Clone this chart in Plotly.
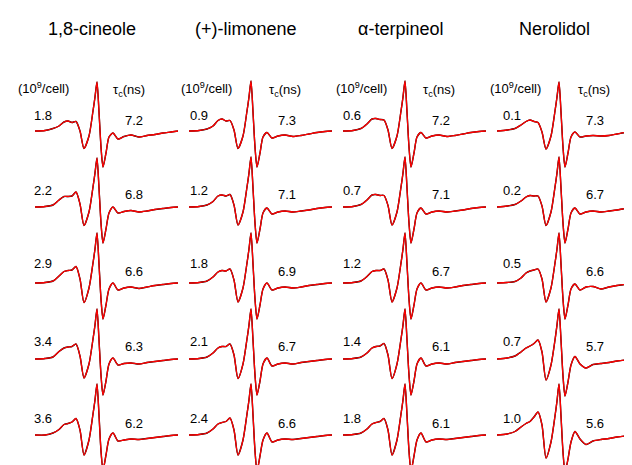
import plotly.graph_objects as go

# field offset from the central line (G), shared by every spectrum
field = [-62, -52, -44, -38, -33, -29, -25, -21, -17, -13, -8, -4, -2, 0, 2, 4,
         6, 9, 12, 16, 21, 27, 34, 42, 50, 58, 66, 74, 81]

compounds = ['1,8-cineole', '(+)-limonene', 'α-terpineol', 'Nerolidol']

# spin label density (10^9/cell) and rotational correlation time (ns), top to bottom
density = [[1.8, 2.2, 2.9, 3.4, 3.6],
           [0.9, 1.2, 1.8, 2.1, 2.4],
           [0.6, 0.7, 1.2, 1.4, 1.8],
           [0.1, 0.2, 0.5, 0.7, 1.0]]
tau_c = [[7.2, 6.8, 6.6, 6.3, 6.2],
         [7.3, 7.1, 6.9, 6.7, 6.6],
         [7.2, 7.1, 6.7, 6.1, 6.1],
         [7.3, 6.7, 6.6, 5.7, 5.6]]

# first-derivative EPR spectra (a.u.)
spectra_cineole = [
    [0, 0.5, 2.5, 5, 9, 10, 8.5, 9.5, 0, -17.5, -5, 20, 34, 49, 19, -16, -36, -22, -6, -2, -8, -5.5, -4, -6, -4.5, -3.5, -2, -1, 0],
    [0, 0.5, 2, 7, 10.5, 10.5, 11, 15, 3, -18.5, -5, 20, 34, 49, 19, -16, -36, -22, -6, 0, -6, -4.5, -3.5, -5, -4, -2.5, -1.5, -0.5, 0],
    [0, 0.5, 2, 7, 11.5, 12.5, 13, 16.5, 4, -19.5, -5, 20, 34, 50, 19, -16, -36, -22, -6, 0, -7, -5, -4, -5.5, -4, -2.5, -1.5, -0.5, 0],
    [0, 0.5, 2, 7.5, 11, 12, 12.5, 15, 3, -19, -5, 20, 34, 50, 19, -16, -36, -22, -5, 1, -6, -4.5, -4, -5, -3.5, -2.5, -1.5, -0.5, 0],
    [0, 0, 2, 5.5, 10.5, 11.5, 13, 16.5, 5, -20, -5, 21, 35, 51, 20, -16, -35, -20, -4, 2, -6, -5, -4, -4.5, -3.5, -2.5, -1.5, -0.5, 0],
]
spectra_limonene = [
    [0, 0.5, 2, 5, 10.5, 12, 10, 10.5, 1, -17.5, -5, 20, 34, 50, 19, -16, -36, -22, -6, -1.5, -7, -5, -4, -5.5, -4.5, -3, -1.5, -0.5, 0],
    [0, 0.5, 2, 5.5, 11, 12, 11, 12.5, 2, -18, -5, 20, 34, 50, 19, -16, -36, -22, -6, -1, -7, -5, -4, -5, -4, -3, -1.5, -0.5, 0],
    [0, 0.5, 2, 6, 11, 12.5, 12, 14, 3, -19, -5, 20, 34, 50, 19, -16, -36, -22, -6, 0, -7, -5, -4, -5, -4, -2.5, -1.5, -0.5, 0],
    [0, 0.5, 2, 6, 11, 12.5, 12.5, 15, 4, -19.5, -5, 20, 34, 50, 19, -16, -36, -22, -5, 1, -7, -5, -4, -5, -3.5, -2.5, -1.5, -0.5, 0],
    [0, 0.5, 2, 6, 11, 12.5, 13.5, 17, 5, -20, -5, 21, 35, 51, 20, -16, -36, -21, -5, 2, -7, -5, -4, -4.5, -3.5, -2.5, -1.5, -0.5, 0],
]
spectra_terpineol = [
    [0, 0.5, 2.5, 7, 12, 12.5, 11.5, 11, 1, -17.5, -5, 20, 34, 50, 19, -16, -36, -22, -6, -1.5, -7, -5, -4, -5.5, -4.5, -3, -1.5, -0.5, 0],
    [0, 0.5, 2.5, 7, 12, 12.5, 11.5, 11.5, 1.5, -18, -5, 20, 34, 50, 19, -16, -36, -22, -6, -1, -7, -5, -4, -5, -4, -3, -1.5, -0.5, 0],
    [0, 0.5, 2, 6.5, 11.5, 12.5, 12.5, 14, 3, -19, -5, 20, 34, 50, 19, -16, -36, -22, -6, 0, -7, -5, -4, -5, -4, -2.5, -1.5, -0.5, 0],
    [0, 0.5, 2, 6, 11, 12.5, 13, 15.5, 4, -19.5, -5, 20, 34, 50, 19, -16, -36, -22, -5, 1, -7, -5, -4, -5, -3.5, -2.5, -1.5, -0.5, 0],
    [0, 0.5, 2, 6, 11, 12.5, 13.5, 16.5, 5, -20, -5, 21, 35, 51, 20, -16, -36, -21, -5, 2, -7, -5, -4, -4.5, -3.5, -2.5, -1.5, -0.5, 0],
]
spectra_nerolidol = [
    [0, 1, 2.5, 6, 9.5, 11, 9.5, 8.5, -1, -18, -5, 20, 34, 49, 19, -16, -36, -22, -6, -1, -6, -5, -4.5, -5, -4.5, -3, -1.5, -0.5, 0],
    [0, 1, 2.5, 6, 10, 11.5, 11, 11, 1, -18.5, -5, 20, 34, 50, 19, -16, -36, -22, -6, -1, -7, -5, -4, -5, -4, -3, -1.5, -0.5, 0],
    [0, 0.5, 1.5, 5, 10, 12, 13, 14, 4, -19, -5, 20, 34, 50, 19, -16, -36, -22, -6, -1, -7, -4, -3.5, -6, -4, -2.5, -1.5, -0.5, 0],
    [0, 1, 3, 7, 11, 13, 15.5, 19, 7, -21, -6, 19, 34, 50, 19, -17, -37, -23, -6, 2.5, -5, -9, -5.5, -4.5, -3.5, -2, -1, -0.5, 0],
    [0, 1, 3.5, 8, 11.5, 13.5, 18, 23, 10, -23, -7, 19, 34, 51, 19, -17, -37, -24, -7, 3.5, -4, -9.5, -6, -4.5, -3.5, -2, -1, -0.5, 0],
]
spectra = [spectra_cineole, spectra_limonene, spectra_terpineol, spectra_nerolidol]

W, H = 632, 465
peak_px = [89, 243, 397, 551]          # central line position of each column
base_px = [123, 199, 275, 351, 427]    # baseline of each row
title_px = [84, 238, 392, 546]
cell_px = [35, 198, 353, 508]
tau_px = [121, 277, 431, 586]
left_px = [35, 191, 344, 504]
right_px = [126, 279, 433, 587]
left_row_y = [107.5, 182.5, 255.5, 333, 410]
right_row_y = [112, 186, 263, 338.5, 415]

fig = go.Figure()
layout = dict(width=W, height=H, margin=dict(l=0, r=0, t=0, b=0),
              paper_bgcolor='white', plot_bgcolor='rgba(0,0,0,0)', showlegend=False)

for c in range(4):
    layout['xaxis%s' % ('' if c == 0 else c + 1)] = dict(
        domain=[(peak_px[c] - 62) / W, min((peak_px[c] + 81) / W, 1)],
        range=[field[0], field[-1]], visible=False, fixedrange=True)
for r in range(5):
    bottom = min(base_px[r] + 40, H)
    top = base_px[r] - 56
    layout['yaxis%s' % ('' if r == 0 else r + 1)] = dict(
        domain=[(H - bottom) / H, (H - top) / H],
        range=[-(bottom - base_px[r]), 56], visible=False, fixedrange=True)

for c in range(4):
    for r in range(5):
        xa = 'x' if c == 0 else 'x%d' % (c + 1)
        ya = 'y' if r == 0 else 'y%d' % (r + 1)
        # experimental trace (black) with the simulated fit (red) on top
        fig.add_trace(go.Scatter(x=field, y=spectra[c][r], xaxis=xa, yaxis=ya, mode='lines',
                                 line=dict(color='black', width=1.4, shape='spline', smoothing=0.7),
                                 hoverinfo='skip'))
        fig.add_trace(go.Scatter(x=field, y=spectra[c][r], xaxis=xa, yaxis=ya, mode='lines',
                                 line=dict(color='#ff0000', width=1.3, shape='spline', smoothing=0.7),
                                 hoverinfo='skip'))

font = 'Liberation Sans, Arial, Helvetica, sans-serif'
ann = []


def label(text, px, py, size):
    ann.append(dict(text=text, x=px / W, y=1 - py / H, xref='paper', yref='paper',
                    xanchor='center', yanchor='middle', showarrow=False,
                    font=dict(family=font, size=size, color='black')))


for c in range(4):
    label(compounds[c], title_px[c], 21, 18)
    label('(10<sup>9</sup>/cell)', cell_px[c], 80, 13)
    label('τ<sub>c</sub>(ns)', tau_px[c], 83, 13)
    for r in range(5):
        label('%.1f' % density[c][r], left_px[c], left_row_y[r], 13)
        label('%.1f' % tau_c[c][r], right_px[c], right_row_y[r], 13)

layout['annotations'] = ann
fig.update_layout(**layout)
fig.write_html('out.html')
